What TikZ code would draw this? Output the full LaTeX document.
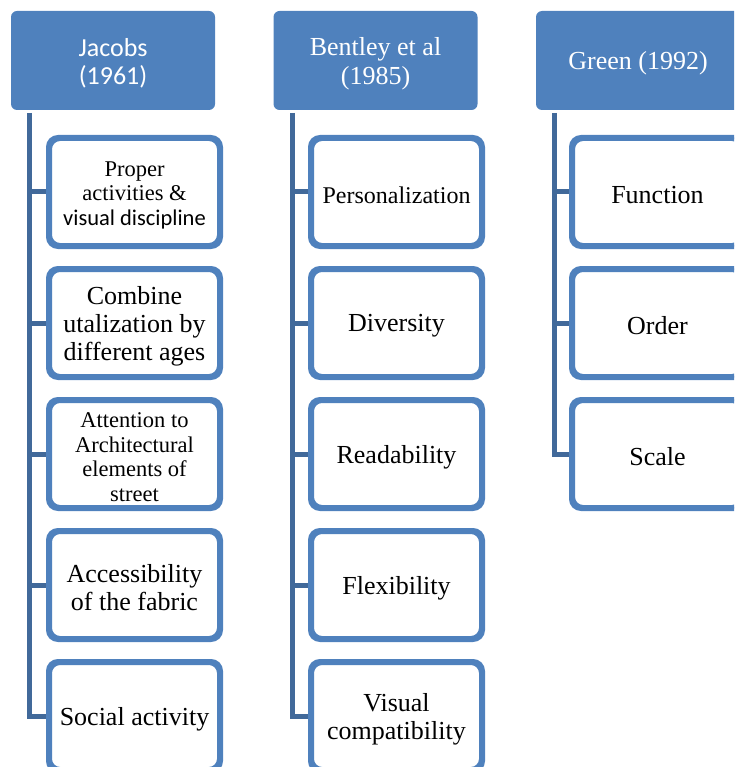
\documentclass[tikz,border=0pt]{standalone}
\usepackage{fontspec}
\setmainfont{Liberation Serif}
\newfontfamily\calibri{Carlito}
\definecolor{headblue}{HTML}{4F81BD}
\definecolor{edgeblue}{HTML}{4F81BD}
\definecolor{trunkblue}{HTML}{41699A}
\tikzset{
  header/.style={fill=headblue, rounded corners=6pt, minimum width=204pt,
    minimum height=99pt, inner sep=0pt},
  headtext/.style={align=center, text=white, yshift=-3pt, inner sep=0pt,
    font=\fontsize{26}{28.5}\selectfont},
  item/.style={draw=edgeblue, line width=4pt, fill=white, rounded corners=10pt,
    minimum width=169pt, minimum height=106pt, inner sep=0pt},
  itemtext/.style={align=center, yshift=-3pt, inner sep=0pt,
    font=\fontsize{26}{28}\selectfont},
  smalltext/.style={itemtext, font=\fontsize{22.5}{24.5}\selectfont},
  midtext/.style={itemtext, font=\fontsize{24}{26}\selectfont},
  trunk/.style={draw=trunkblue, line width=5pt, line join=miter},
}
\begin{document}
\begin{tikzpicture}[x=1pt,y=-1pt]
\useasboundingbox (0,0) rectangle (734,767);
\clip (0,0) rectangle (734,767);

% column heads
\node[header, label={[headtext]center:{\calibri Jacobs}\\{\calibri (1961)}}] (jh) at (113,60.5) {};
\node[header, label={[headtext]center:Bentley et al\\(1985)}] (bh) at (375.5,60.5) {};
\node[header, label={[headtext]center:Green (1992)}] (gh) at (638,60.5) {};

% trunk start points just below each head
\coordinate (jt) at (29,113);
\coordinate (bt) at (292,113);
\coordinate (gt) at (554,113);

% Jacobs items
\node[item, label={[smalltext]center:Proper\\activities \&\\{\calibri visual discipline}}] (j1) at (134.5,192) {};
\node[item, label={[itemtext]center:Combine\\utalization by\\different ages}] (j2) at (134.5,323) {};
\node[item, label={[smalltext]center:Attention to\\Architectural\\elements of\\street}] (j3) at (134.5,454) {};
\node[item, label={[itemtext]center:Accessibility\\of the fabric}] (j4) at (134.5,585) {};
\node[item, label={[itemtext]center:Social activity}] (j5) at (134.5,716) {};

% Bentley items
\node[item, label={[midtext]center:Personalization}] (b1) at (396.5,192) {};
\node[item, label={[itemtext]center:Diversity}] (b2) at (396.5,323) {};
\node[item, label={[itemtext]center:Readability}] (b3) at (396.5,454) {};
\node[item, label={[itemtext]center:Flexibility}] (b4) at (396.5,585) {};
\node[item, label={[itemtext]center:Visual\\compatibility}] (b5) at (396.5,716) {};

% Green items
\node[item, label={[itemtext]center:Function}] (g1) at (657.5,192) {};
\node[item, label={[itemtext]center:Order}] (g2) at (657.5,323) {};
\node[item, label={[itemtext]center:Scale}] (g3) at (657.5,454) {};

% trunks and branches
\draw[trunk] (jt) |- (j5.west);
\foreach \n in {j1,j2,j3,j4} \draw[trunk] (jt |- \n.west) -- (\n.west);
\draw[trunk] (bt) |- (b5.west);
\foreach \n in {b1,b2,b3,b4} \draw[trunk] (bt |- \n.west) -- (\n.west);
\draw[trunk] (gt) |- (g3.west);
\foreach \n in {g1,g2} \draw[trunk] (gt |- \n.west) -- (\n.west);

% redraw item outlines over the branch ends
\foreach \n in {j1,j2,j3,j4,j5,b1,b2,b3,b4,b5,g1,g2,g3}
  \draw[edgeblue, line width=4pt, rounded corners=10pt]
    (\n.north west) rectangle (\n.south east);
\end{tikzpicture}
\end{document}
